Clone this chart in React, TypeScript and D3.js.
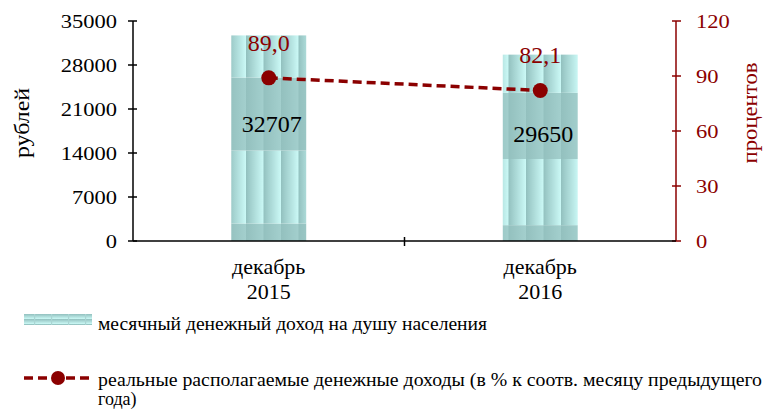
import React from "react";
import * as d3 from "d3";

const categories = ["декабрь\n2015", "декабрь\n2016"];
const incomeValues = [32707, 29650];
const realIncomePct = [89.0, 82.1];
const incomeLabels = ["32707", "29650"];
const pctLabels = ["89,0", "82,1"];
const leftTicks = [0, 7000, 14000, 21000, 28000, 35000];
const rightTicks = [0, 30, 60, 90, 120];
const legendBarLabel = "месячный денежный доход на душу населения";
const legendLineLabel1 = "реальные располагаемые  денежные доходы (в % к соотв. месяцу предыдущего";
const legendLineLabel2 = "года)";

const W = 765;
const H = 409;
const M = { left: 133, right: 676, top: 21, bottom: 241 };
const RED = "#8b0000";
const FONT = "Liberation Serif";
const BASE = 16; // base font px; visual size reached through scale()

type TProps = {
  x: number;
  y: number;
  size: number;
  sx?: number;
  rotate?: number;
  anchor?: "start" | "middle" | "end";
  fill?: string;
  length?: number;
  children: React.ReactNode;
};

function T({ x, y, size, sx = 1, rotate = 0, anchor = "start", fill = "#000", length, children }: TProps) {
  const k = size / BASE;
  return (
    <text
      transform={`translate(${x},${y}) rotate(${rotate}) scale(${k * sx},${k})`}
      fontSize={BASE}
      textAnchor={anchor}
      fill={fill}
      style={{ fontFamily: FONT }}
      textLength={length ? length / (k * sx) : undefined}
      lengthAdjust={length ? "spacingAndGlyphs" : undefined}
    >
      {children}
    </text>
  );
}

export default function App() {
  const x = d3.scaleBand<string>().domain(categories).range([M.left, M.right]).paddingInner(0.724).paddingOuter(0.362);
  const yL = d3.scaleLinear().domain([0, 35000]).range([M.bottom, M.top]);
  const yR = d3.scaleLinear().domain([0, 120]).range([M.bottom, M.top]);
  const bw = x.bandwidth();
  const cx = (c: string) => (x(c) as number) + bw / 2;

  const line = d3
    .line<number>()
    .x((_, i) => cx(categories[i]))
    .y((d) => yR(d));

  const bands = [
    { from: 0, to: 0.085, fill: "url(#darkStripe)" },
    { from: 0.085, to: 0.44, fill: "url(#lightStripe)" },
    { from: 0.44, to: 0.795, fill: "url(#darkStripe)" },
    { from: 0.795, to: 1, fill: "url(#lightStripe)" },
  ];

  return (
    <svg width={W} height={H} style={{ position: "absolute", left: 0, top: 0 }}>
      <defs>
        <linearGradient id="lg" x1="0" x2="1" y1="0" y2="0">
          <stop offset="0" stopColor="#92c0be" />
          <stop offset="0.15" stopColor="#9ccac8" />
          <stop offset="1" stopColor="#cbf9f6" />
        </linearGradient>
        <linearGradient id="dg" x1="0" x2="1" y1="0" y2="0">
          <stop offset="0" stopColor="#93c0be" />
          <stop offset="1" stopColor="#a3cfcd" />
        </linearGradient>
        <pattern id="lightStripe" patternUnits="userSpaceOnUse" width="17.5" height="10" x="228.5">
          <rect width="17.5" height="10" fill="url(#lg)" />
        </pattern>
        <pattern id="darkStripe" patternUnits="userSpaceOnUse" width="17.5" height="10" x="228.5">
          <rect width="17.5" height="10" fill="url(#dg)" />
        </pattern>
        <linearGradient id="lgv" x1="0" x2="0" y1="0" y2="1">
          <stop offset="0" stopColor="#92c0be" />
          <stop offset="1" stopColor="#cbf9f6" />
        </linearGradient>
        <pattern id="legStripe" patternUnits="userSpaceOnUse" width="17" height="5" y="314">
          <rect width="17" height="5" fill="url(#lgv)" />
          <rect width="1.2" height="5" fill="#a9d5d3" />
        </pattern>
      </defs>

      {categories.map((c, i) => {
        const top = yL(incomeValues[i]);
        const h = M.bottom - top;
        const bx = x(c) as number;
        return (
          <g key={c}>
            {bands.map((b, j) => (
              <rect key={j} x={bx} y={M.bottom - h * b.to} width={bw} height={h * (b.to - b.from)} fill={b.fill} />
            ))}
            <T x={cx(c) + 3} y={yL(incomeValues[i] / 2) - 6} size={24} anchor="middle">
              {incomeLabels[i]}
            </T>
          </g>
        );
      })}

      <line x1={M.left} x2={M.left} y1={M.top} y2={M.bottom} stroke="#000" strokeWidth={1.5} />
      {leftTicks.map((t) => (
        <g key={t}>
          <line x1={M.left - 5} x2={M.left + 4} y1={yL(t)} y2={yL(t)} stroke="#000" strokeWidth={1.5} />
          <T x={M.left - 16} y={yL(t) + 6.5} size={18} sx={1.25} anchor="end">
            {t}
          </T>
        </g>
      ))}
      <T x={29} y={(M.top + M.bottom) / 2 - 8} size={20} rotate={-90} anchor="middle" length={70}>
        рублей
      </T>

      <line x1={M.right} x2={M.right} y1={M.top} y2={M.bottom} stroke={RED} strokeWidth={1.5} />
      {rightTicks.map((t) => (
        <g key={t}>
          <line x1={M.right - 4} x2={M.right + 5} y1={yR(t)} y2={yR(t)} stroke={RED} strokeWidth={1.5} />
          <T x={M.right + 20} y={yR(t) + 6.5} size={18} sx={1.25} fill={RED}>
            {t}
          </T>
        </g>
      ))}
      <T x={757} y={(M.top + M.bottom) / 2 - 18} size={20} rotate={-90} anchor="middle" fill={RED} length={101}>
        процентов
      </T>

      <line x1={M.left} x2={M.right} y1={M.bottom} y2={M.bottom} stroke="#000" strokeWidth={1.5} />
      <line x1={(M.left + M.right) / 2} x2={(M.left + M.right) / 2} y1={M.bottom - 4} y2={M.bottom + 5} stroke="#000" strokeWidth={1.5} />
      {categories.map((c) =>
        c.split("\n").map((s, k) => (
          <T key={c + k} x={cx(c)} y={274 + k * 25} size={22} anchor="middle">
            {s}
          </T>
        ))
      )}

      <path d={line(realIncomePct) ?? ""} fill="none" stroke={RED} strokeWidth={3.5} strokeDasharray="9,5" />
      {realIncomePct.map((v, i) => (
        <g key={i}>
          <circle cx={cx(categories[i])} cy={yR(v)} r={7.5} fill={RED} />
          <T x={cx(categories[i])} y={yR(v) - 27} size={24} anchor="middle" fill={RED}>
            {pctLabels[i]}
          </T>
        </g>
      ))}

      <rect x={24} y={314} width={68} height={11} fill="url(#legStripe)" />
      <T x={98} y={330} size={18} length={389}>
        {legendBarLabel}
      </T>
      <line x1={24} x2={92} y1={378} y2={378} stroke={RED} strokeWidth={3.5} strokeDasharray="9,5" />
      <circle cx={58} cy={378} r={7} fill={RED} />
      <T x={98} y={386} size={18} length={664}>
        {legendLineLabel1}
      </T>
      <T x={98} y={405} size={18}>
        {legendLineLabel2}
      </T>
    </svg>
  );
}
